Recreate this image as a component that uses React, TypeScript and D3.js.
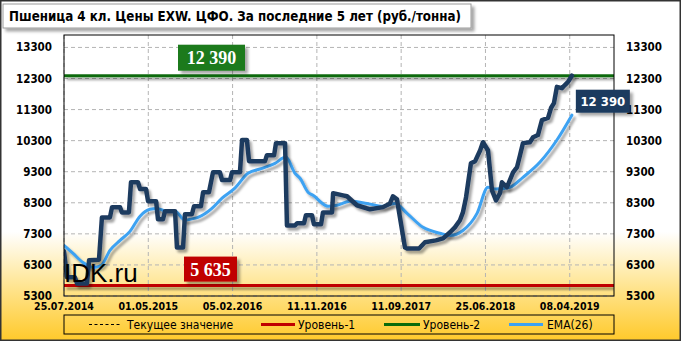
import React from "react";
import * as d3 from "d3";

// ---- data ----
const dateLabels = ["25.07.2014", "01.05.2015", "05.02.2016", "11.11.2016", "11.09.2017", "25.06.2018", "08.04.2019"];
const weeksPerTick = 40;
const yTicks = [5300, 6300, 7300, 8300, 9300, 10300, 11300, 12300, 13300];

const priceWeek = [
  0, 1.4, 5.2, 6.2, 10.9, 11.9, 16.6, 18.0, 21.8, 22.8, 26.6, 27.5, 30.8, 31.8, 35.1, 36.1, 38.9, 39.9, 43.7,
  44.6, 47.0, 47.9, 52.7, 53.6, 56.5, 57.4, 60.7, 61.7, 65.0, 66.0, 68.8, 70.7, 74.0, 75.0, 78.8, 79.7, 83.5,
  84.5, 86.8, 87.8, 95.4, 96.3, 99.7, 100.6, 104.9, 105.8, 109.6, 110.6, 113.9, 114.8, 117.7, 118.6, 122.0,
  122.9, 127.2, 127.7, 132.4, 134.3, 139.0, 145.2, 151.4, 154.7, 156.1, 158.0, 161.8, 162.8, 168.5, 171.3,
  176.5, 179.9, 183.2, 185.5, 187.9, 189.3, 190.8, 193.1, 195.1, 197.5, 198.8, 201.2, 203.1, 205.0, 206.9,
  207.8, 210.2, 213.1, 215.0, 216.4, 217.8, 221.1, 222.6, 224.9, 226.8, 229.7, 231.1, 232.5, 233.9, 236.3,
  237.7, 239.2, 241,
];
const priceValue = [
  6740, 5900, 5900, 5700, 5700, 6450, 6470, 7830, 7830, 8160, 8160, 7990, 7990, 8960, 8960, 8740, 8740, 8350, 8350,
  7770, 7770, 8030, 8030, 6860, 6860, 7930, 7930, 8190, 8190, 8640, 8640, 9280, 9280, 9030, 9030, 9280, 9280,
  10320, 10320, 9640, 9640, 9830, 9830, 10220, 10220, 7570, 7570, 7640, 7640, 7900, 7900, 7610, 7610,
  7990, 7990, 8610, 8540, 8510, 8220, 8090, 8160, 8280, 8510, 8410, 6860, 6830, 6830, 7030,
  7090, 7155, 7350, 7510, 7740, 7990, 8480, 9570, 9640, 9990, 10250, 9990, 8700, 8380, 8610,
  8960, 8800, 9280, 9450, 9830, 10220, 10250, 10410, 10480, 10960, 11030, 11350, 11510, 12030, 11990,
  12090, 12190, 12390,
];

const emaWeek = [
  0, 4.3, 9.0, 13.8, 17.6, 21.8, 26.6, 31.3, 36.1, 40.8, 44.1, 48.9, 52.7, 57.4, 59.8, 63.6, 70.2, 75.0, 81.1,
  87.3, 94.0, 100.1, 105.3, 109.6, 112.0, 115.8, 118.2, 125.3, 129.5, 135.7, 143.8, 151.4, 157.1, 162.8, 170.4,
  178.4, 183.2, 189.3, 196.0, 201.2, 205.0, 211.6, 217.8, 225.9, 233.9, 241,
];
const emaValue = [
  6930, 6670, 6380, 6220, 6280, 6770, 7090, 7380, 7870, 8090, 8120, 8030, 8030, 7740, 7770, 7830, 8120, 8450, 8770,
  9250, 9410, 9570, 9770, 9250, 9090, 8640, 8540, 8190, 8220, 8350, 8280, 8190, 8280, 7960, 7510,
  7320, 7250, 7410, 7960, 8800, 8740, 8800, 9120, 9610, 10320, 11120,
];

const level1 = 5635;
const level2 = 12390;
const currentValue = 12390;

const legendItems = ["Текущее значение", "Уровень-1", "Уровень-2", "EMA(26)"];

const fmt = (v: number) => {
  const s = String(v);
  return s.length > 3 ? s.slice(0, s.length - 3) + " " + s.slice(s.length - 3) : s;
};

export default function App() {
  const W = 681, H = 341;
  const L = 64, R = 614, T = 35, B = 296;
  const x = d3.scaleLinear().domain([0, 261]).range([L, R]);
  const y = d3.scaleLinear().domain([5300, 13700]).range([B, T]);

  const pricePts: [number, number][] = priceWeek.map((w, i) => [x(w), y(priceValue[i])]);
  const emaPts: [number, number][] = emaWeek.map((w, i) => [x(w), y(emaValue[i])]);
  const priceLine = d3.line().curve(d3.curveLinear)(pricePts) || "";
  const emaLine = d3.line().curve(d3.curveMonotoneX)(emaPts) || "";

  const cond = "'DejaVu Sans Condensed', 'DejaVu Sans', sans-serif";
  const navy = "#1f3a5f";
  const blue = "#3ea2f2";
  const green = "#0b6b0b";
  const red = "#c00000";

  const lastX = x(priceWeek[priceWeek.length - 1]);
  const lastY = y(currentValue);

  const legendY = 324.5;
  const legendSpecs = [
    { x1: 89, x2: 122, tx: 127, color: "#000", dash: "3,2.5", w: 1 },
    { x1: 261, x2: 295, tx: 298, color: red, dash: "", w: 3 },
    { x1: 384, x2: 420, tx: 423, color: green, dash: "", w: 3 },
    { x1: 509, x2: 543, tx: 547, color: blue, dash: "", w: 3 },
  ];

  return (
    <svg width={W} height={H} style={{ display: "block", position: "absolute", left: 0, top: 0 }}>
      <defs>
        <linearGradient id="bg" x1="0" y1="0" x2="0" y2="1">
          <stop offset="0" stopColor="#ffffff" />
          <stop offset="0.68" stopColor="#ffffff" />
          <stop offset="0.85" stopColor="#ffe38a" />
          <stop offset="1" stopColor="#ffc92a" />
        </linearGradient>
        <filter id="sh" filterUnits="userSpaceOnUse" x={0} y={0} width={W} height={H}>
          <feDropShadow dx="2.5" dy="3" stdDeviation="1.2" floodColor="#000" floodOpacity="0.35" />
        </filter>
        <filter id="shb" x="-10%" y="-20%" width="130%" height="160%">
          <feDropShadow dx="3" dy="3" stdDeviation="1.5" floodColor="#000" floodOpacity="0.35" />
        </filter>
        <clipPath id="plotclip">
          <rect x={L} y={T} width={R - L} height={B - T} />
        </clipPath>
      </defs>
      <rect x={0} y={0} width={W} height={H} fill="url(#bg)" />
      <rect x={0.75} y={0.75} width={W - 1.5} height={H - 1.5} fill="none" stroke="#333" strokeWidth={1.5} />

      {/* title */}
      <rect x={3} y={4} width={468} height={24} fill="#fff" stroke="#9a9a9a" strokeWidth={1} filter="url(#shb)" />
      <text x={9} y={21} fontFamily={cond} fontWeight="bold" fontSize={13.5} textLength={452} lengthAdjust="spacingAndGlyphs" fill="#000">
        Пшеница 4 кл. Цены EXW. ЦФО. За последние 5 лет (руб./тонна)
      </text>

      {/* grid */}
      {yTicks.map((t) => (
        <line key={"gy" + t} x1={L} x2={R} y1={y(t)} y2={y(t)} stroke="#b4b4b4" strokeDasharray="4,3" strokeWidth={1} />
      ))}
      {dateLabels.map((d, i) => (
        <line key={"gx" + d} x1={x(i * weeksPerTick)} x2={x(i * weeksPerTick)} y1={T} y2={B} stroke="#b4b4b4" strokeDasharray="4,3" strokeWidth={1} />
      ))}

      {/* axes labels */}
      {yTicks.map((t) => (
        <text key={"yl" + t} x={52} y={y(t) + 4} textAnchor="end" fontFamily={cond} fontWeight="bold" fontSize={11.5} fill="#000">
          {t}
        </text>
      ))}
      {yTicks.map((t) => (
        <text key={"yr" + t} x={626} y={y(t) + 4} textAnchor="start" fontFamily={cond} fontWeight="bold" fontSize={11.5} fill="#000">
          {t}
        </text>
      ))}
      {dateLabels.map((d, i) => (
        <text key={"xl" + d} x={x(i * weeksPerTick)} y={310} textAnchor="middle" fontFamily={cond} fontWeight="bold" fontSize={10.5} fill="#000">
          {d}
        </text>
      ))}

      <g clipPath="url(#plotclip)">
        {/* levels */}
        <line x1={L} x2={R} y1={y(level1)} y2={y(level1)} stroke={red} strokeWidth={3} filter="url(#sh)" />
        <line x1={L} x2={R} y1={y(level2)} y2={y(level2)} stroke={green} strokeWidth={3} filter="url(#sh)" />
        {/* EMA */}
        <path d={emaLine} fill="none" stroke={blue} strokeWidth={3} strokeLinejoin="round" strokeLinecap="round" filter="url(#sh)" />
        {/* price */}
        <path d={priceLine} fill="none" stroke={navy} strokeWidth={4.5} strokeLinejoin="round" strokeLinecap="round" filter="url(#sh)" />
      </g>

      {/* watermark */}
      <text x={64} y={282} fontFamily="'Liberation Sans', Arial, sans-serif" fontSize={26} fill="#000">IDK.ru</text>

      {/* plot frame */}
      <rect x={L} y={T} width={R - L} height={B - T} fill="none" stroke="#000" strokeWidth={1} />

      {/* level labels */}
      <g filter="url(#shb)">
        <rect x={178} y={y(level2) - 31} width={67} height={26} fill="#1c7a1c" />
        <rect x={184} y={y(level1) - 29} width={53} height={25} fill={red} />
      </g>
      <text x={211.5} y={y(level2) - 11.5} textAnchor="middle" fontFamily="'Liberation Serif', 'Times New Roman', serif" fontWeight="bold" fontSize={18} fill="#fff">
        {fmt(level2)}
      </text>
      <text x={210.5} y={y(level1) - 10} textAnchor="middle" fontFamily="'Liberation Serif', 'Times New Roman', serif" fontWeight="bold" fontSize={18} fill="#fff">
        {fmt(level1)}
      </text>

      {/* current value label */}
      <rect x={lastX + 4} y={lastY + 14} width={54} height={23} fill={navy} filter="url(#shb)" />
      <text x={lastX + 31} y={lastY + 30.5} textAnchor="middle" fontFamily={cond} fontWeight="bold" fontSize={13} fill="#fff">
        {fmt(currentValue)}
      </text>

      {/* legend */}
      <rect x={L} y={315} width={R - L} height={19} fill="none" stroke="#000" strokeWidth={1} />
      {legendSpecs.map((s, i) => (
        <g key={"lg" + i}>
          <line x1={s.x1} x2={s.x2} y1={legendY} y2={legendY} stroke={s.color} strokeWidth={s.w} strokeDasharray={s.dash || undefined} />
          <text x={s.tx} y={legendY + 4.5} fontFamily={cond} fontSize={12} fill="#000">
            {legendItems[i]}
          </text>
        </g>
      ))}
    </svg>
  );
}
